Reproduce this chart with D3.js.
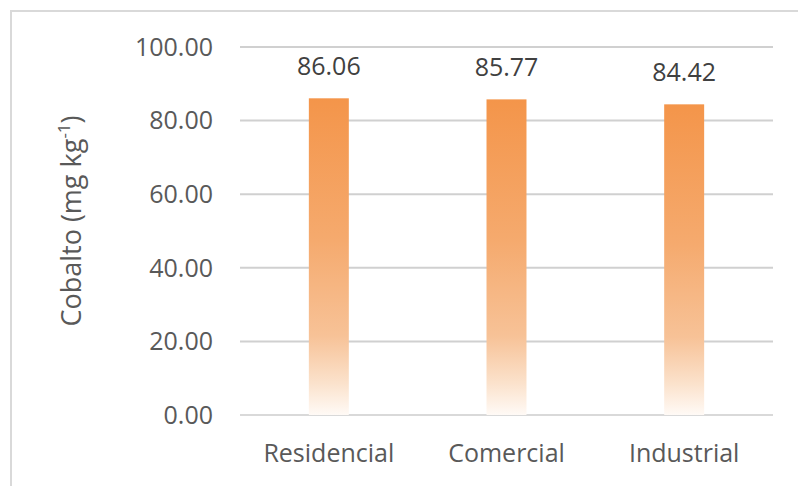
<!DOCTYPE html>
<html>
<head>
<meta charset="utf-8">
<script src="https://cdn.jsdelivr.net/npm/d3@7/dist/d3.min.js"></script>
<style>
  html, body { margin: 0; padding: 0; background: #fff; }
  svg { display: block; font-family: "Open Sans", "Noto Sans", sans-serif; }
</style>
</head>
<body>
<svg id="chart" width="798" height="486"></svg>
<script>
// Cobalt concentration by land-use zone
const categories = ["Residencial", "Comercial", "Industrial"];
const values = [86.06, 85.77, 84.42];
const yTicks = [0, 20, 40, 60, 80, 100];

const svg = d3.select("#chart");
const W = 798, H = 486;
const margin = { left: 240, right: 25, top: 47, bottom: 71 };

// Outer chart frame
svg.append("rect")
  .attr("x", 11).attr("y", 11)
  .attr("width", 820).attr("height", 520)
  .attr("fill", "none")
  .attr("stroke", "#d9d9d9")
  .attr("stroke-width", 2);

const x = d3.scaleBand()
  .domain(categories)
  .range([margin.left, W - margin.right])
  .paddingInner(0.775)
  .paddingOuter(0.3875);

const y = d3.scaleLinear()
  .domain([0, 100])
  .range([H - margin.bottom, margin.top]);

// Vertical fade for the bars
const defs = svg.append("defs");
const grad = defs.append("linearGradient")
  .attr("id", "barFade")
  .attr("x1", 0).attr("y1", 0).attr("x2", 0).attr("y2", 1);
[
  [0, "#f4954a"],
  [0.45, "#f5aa6e"],
  [0.75, "#f7c297"],
  [0.9, "#fbe2cc"],
  [1, "#fffaf6"]
].forEach(([o, c]) => {
  grad.append("stop").attr("offset", o).attr("stop-color", c);
});

// Gridlines
svg.append("g")
  .selectAll("line")
  .data(yTicks)
  .join("line")
  .attr("x1", margin.left)
  .attr("x2", W - margin.right)
  .attr("y1", d => y(d))
  .attr("y2", d => y(d))
  .attr("stroke", d => d === 0 ? "#d9d9d9" : "#d0d0d0")
  .attr("stroke-width", 2);

// Y axis tick labels
svg.append("g")
  .selectAll("text")
  .data(yTicks)
  .join("text")
  .attr("x", margin.left - 27)
  .attr("y", d => y(d))
  .attr("dy", "0.35em")
  .attr("text-anchor", "end")
  .attr("font-size", 25)
  .attr("fill", "#595959")
  .text(d => d3.format(".2f")(d));

// Bars
svg.append("g")
  .selectAll("rect")
  .data(values)
  .join("rect")
  .attr("x", (d, i) => x(categories[i]))
  .attr("y", d => y(d))
  .attr("width", x.bandwidth())
  .attr("height", d => y(0) - y(d))
  .attr("fill", "url(#barFade)");

// Value labels
svg.append("g")
  .selectAll("text")
  .data(values)
  .join("text")
  .attr("x", (d, i) => x(categories[i]) + x.bandwidth() / 2)
  .attr("y", d => y(d) - 23)
  .attr("text-anchor", "middle")
  .attr("font-size", 25)
  .attr("fill", "#404040")
  .text(d => d3.format(".2f")(d));

// Category labels
svg.append("g")
  .selectAll("text")
  .data(categories)
  .join("text")
  .attr("x", d => x(d) + x.bandwidth() / 2)
  .attr("y", H - margin.bottom + 47)
  .attr("text-anchor", "middle")
  .attr("font-size", 25)
  .attr("fill", "#595959")
  .text(d => d);

// Y axis title
const title = svg.append("text")
  .attr("transform", `translate(81, ${(margin.top + H - margin.bottom) / 2 - 10}) rotate(-90)`)
  .attr("text-anchor", "middle")
  .attr("font-size", 27)
  .attr("fill", "#595959");
title.append("tspan").text("Cobalto (mg kg");
title.append("tspan").attr("font-size", 17).attr("dy", -11).text("-1");
title.append("tspan").attr("dy", 11).text(")");
</script>
</body>
</html>
